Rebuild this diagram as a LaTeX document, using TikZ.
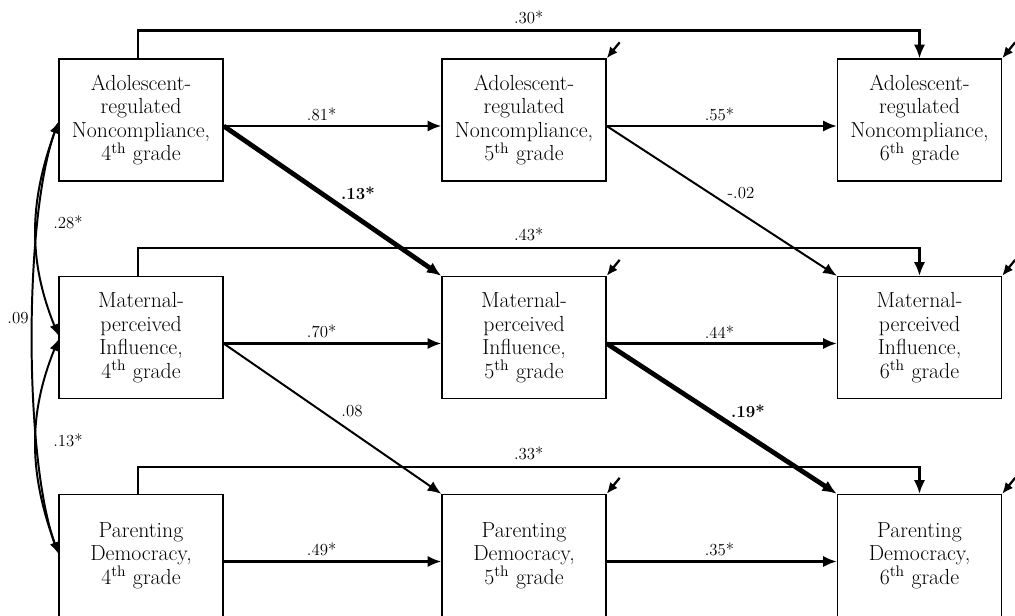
\documentclass[tikz,border=0pt]{standalone}
\usepackage{tikz}
\usetikzlibrary{arrows.meta}
\newcommand*{\Grade}[1]{#1\textsuperscript{th} grade}

\begin{document}
\begin{tikzpicture}[x=0.025cm, y=0.025cm,
    box/.style={draw, line width=0.9pt, minimum width=4.1cm, minimum height=3.05cm,
        inner sep=0pt, align=center, font=\fontsize{15.5}{16.8}\selectfont},
    flow/.style={line width=1.8pt, -{Latex[length=3.4mm,width=2.8mm]}},
    weak/.style={line width=1.4pt, -{Latex[length=3.4mm,width=2.8mm]}},
    strong/.style={line width=3.4pt, -{Latex[length=3.6mm,width=3mm]}},
    stab/.style={line width=1.8pt, -{Latex[length=3.4mm,width=2.8mm]}},
    err/.style={line width=1.6pt, -{Latex[length=2.8mm,width=2.4mm]}},
    cov/.style={line width=1.4pt, {Latex[length=2.8mm,width=2.3mm]}-{Latex[length=2.8mm,width=2.3mm]}},
    lbl/.style={font=\fontsize{12}{13}\selectfont, inner sep=1pt}]
    \useasboundingbox (0,0) rectangle (1015,-616);

    % boxes
    \node[box] (anc4) at (141,-120) {Adolescent-\\regulated\\Noncompliance,\\\Grade{4}};
    \node[box] (anc5) at (524,-120) {Adolescent-\\regulated\\Noncompliance,\\\Grade{5}};
    \node[box] (anc6) at (919.5,-120) {Adolescent-\\regulated\\Noncompliance,\\\Grade{6}};
    \node[box] (mpi4) at (141,-337.5) {Maternal-\\perceived\\Influence,\\\Grade{4}};
    \node[box] (mpi5) at (524,-337.5) {Maternal-\\perceived\\Influence,\\\Grade{5}};
    \node[box] (mpi6) at (919.5,-337.5) {Maternal-\\perceived\\Influence,\\\Grade{6}};
    \node[box] (pd4) at (141,-555.5) {Parenting\\Democracy,\\\Grade{4}};
    \node[box] (pd5) at (524,-555.5) {Parenting\\Democracy,\\\Grade{5}};
    \node[box] (pd6) at (919.5,-555.5) {Parenting\\Democracy,\\\Grade{6}};

    % stability over one year
    \draw[flow] ([yshift=-0.15cm]anc4.east) -- node[lbl, pos=0.45, above=2pt] (l81) {.81*} ([yshift=-0.15cm]anc5.west);
    \draw[flow] ([yshift=-0.15cm]anc5.east) -- node[lbl, pos=0.49, above=2pt] (l55) {.55*} ([yshift=-0.15cm]anc6.west);
    \draw[flow] ([yshift=-0.15cm]mpi4.east) -- node[lbl, pos=0.45, above=2pt] (l70) {.70*} ([yshift=-0.15cm]mpi5.west);
    \draw[flow] ([yshift=-0.15cm]mpi5.east) -- node[lbl, pos=0.49, above=2pt] (l44) {.44*} ([yshift=-0.15cm]mpi6.west);
    \draw[flow] ([yshift=-0.15cm]pd4.east) -- node[lbl, pos=0.45, above=2pt] (l49) {.49*} ([yshift=-0.15cm]pd5.west);
    \draw[flow] ([yshift=-0.15cm]pd5.east) -- node[lbl, pos=0.49, above=2pt] (l35) {.35*} ([yshift=-0.15cm]pd6.west);

    % stability over two years
    \draw[stab] ([xshift=-0.075cm]anc4.north) -- ++(0,28) -| node[lbl, pos=0.25, above=3pt] (l30) {.30*} (anc6.north);
    \draw[stab] ([xshift=-0.075cm]mpi4.north) -- ++(0,28) -| node[lbl, pos=0.25, above=3pt] (l43) {.43*} (mpi6.north);
    \draw[stab] ([xshift=-0.075cm]pd4.north) -- ++(0,27) -| node[lbl, pos=0.25, above=3pt] (l33) {.33*} (pd6.north);

    % cross-lagged paths
    \draw[strong] ([yshift=-0.15cm]anc4.east) -- (mpi5.north west);
    \draw[weak] ([yshift=-0.15cm]anc5.east) -- (mpi6.north west);
    \draw[weak] ([yshift=-0.15cm]mpi4.east) -- (pd5.north west);
    \draw[strong] ([yshift=-0.15cm]mpi5.east) -- (pd6.north west);
    \node[lbl] (l13) at (358,-193) {\textbf{.13*}};
    \node[lbl] (l02) at (741,-193) {-.02};
    \node[lbl] (l08) at (352,-411) {.08};
    \node[lbl] (l19) at (748,-411) {\textbf{.19*}};

    % residuals
    \foreach \n in {anc5,anc6,mpi5,mpi6,pd5,pd6}
        \draw[err] ([shift={(13,16)}]\n.north east) -- (\n.north east);

    % covariances at 4th grade
    \draw[cov] ([yshift=-0.05cm]anc4.west) to[out=250, in=112] ([yshift=0.05cm]mpi4.west);
    \draw[cov] ([yshift=-0.05cm]mpi4.west) to[out=248, in=110] ([yshift=0.05cm]pd4.west);
    \draw[cov] ([yshift=-0.05cm]anc4.west) to[out=250, in=110, looseness=0.6] ([yshift=0.05cm]pd4.west);
    \node[lbl] (l28) at (68,-222) {.28*};
    \node[lbl] (l13b) at (68,-440) {.13*};
    \node[lbl] (l09) at (18,-318) {.09};
\end{tikzpicture}
\end{document}
